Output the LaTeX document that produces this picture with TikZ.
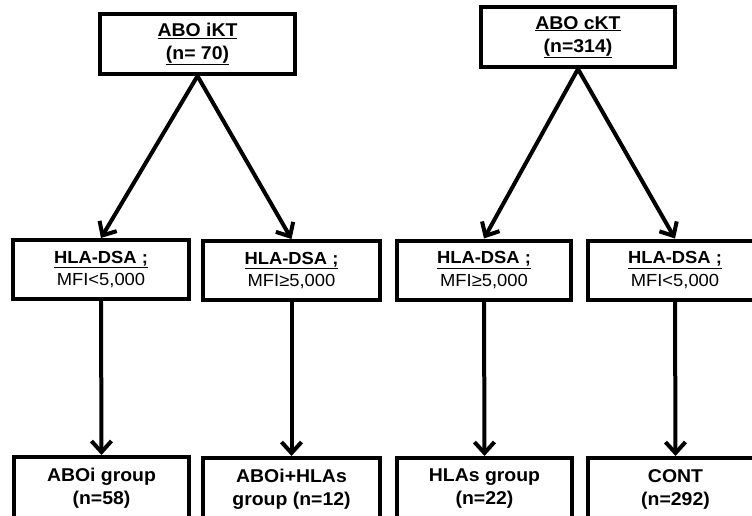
\documentclass[tikz,border=0pt]{standalone}
\usepackage{fontspec}
\setmainfont{Liberation Sans}[FakeStretch=1.05]
\usetikzlibrary{arrows.meta}
\tikzset{
  box/.style={draw, line width=4pt, inner sep=0pt, align=center, fill=white},
  topbox/.style={box, minimum width=195pt, minimum height=60pt, font=\bfseries\fontsize{18.5}{23}\selectfont},
  midbox/.style={box, minimum width=176pt, minimum height=59pt, font=\fontsize{17.5}{22.5}\selectfont},
  botbox/.style={box, minimum width=176pt, minimum height=62pt, font=\bfseries\fontsize{18.5}{23}\selectfont},
  arr/.style={line width=4pt, -{Straight Barb[length=11pt,width=20pt]}}
}
\begin{document}
\begin{tikzpicture}[x=1pt,y=-1pt]
\clip (0,0) rectangle (752,515);
\fill[white] (0,0) rectangle (752,515);
% top
\node[topbox] (t1) at (197.5,44) {\underline{ABO iKT}\\\underline{(n= 70)}};
\node[topbox, minimum width=194pt] (t2) at (578,37) {\underline{ABO cKT}\\\underline{(n=314)}};
% middle
\node[midbox] (m1) at (101,269.5) {\textbf{\underline{HLA-DSA ;}}\\MFI<5,000};
\node[midbox, minimum width=177pt] (m2) at (291.5,270.5) {\textbf{\underline{HLA-DSA ;}}\\MFI≥5,000};
\node[midbox, minimum width=174pt] (m3) at (484,270) {\textbf{\underline{HLA-DSA ;}}\\MFI≥5,000};
\node[midbox, minimum width=175pt] (m4) at (675,270) {\textbf{\underline{HLA-DSA ;}}\\MFI<5,000};
% bottom
\node[botbox, minimum width=175pt] (b1) at (101.5,488) {ABOi group\\(n=58)};
\node[botbox, minimum width=177pt] (b2) at (291.5,489) {ABOi+HLAs\\group (n=12)};
\node[botbox, minimum width=175pt] (b3) at (484.5,489) {HLAs group\\(n=22)};
\node[botbox, minimum width=175pt] (b4) at (675.5,489) {CONT\\(n=292)};
% arrows
\draw[arr] (t1.south) -- (m1.north);
\draw[arr] (t1.south) -- (m2.north);
\draw[arr] (t2.south) -- (m3.north);
\draw[arr] (t2.south) -- (m4.north);
\draw[arr] (m1.south) -- (b1.north);
\draw[arr] (m2.south) -- (b2.north);
\draw[arr] (m3.south) -- (b3.north);
\draw[arr] (m4.south) -- (b4.north);
\end{tikzpicture}
\end{document}
